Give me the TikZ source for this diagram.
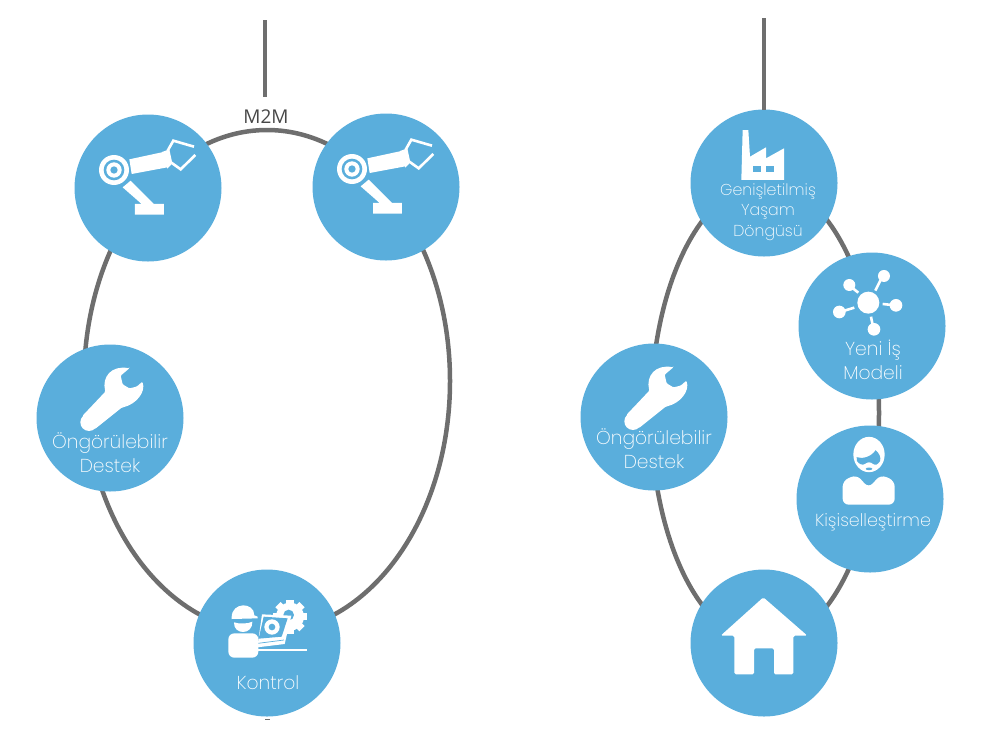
\documentclass[tikz,border=0pt]{standalone}
\usepackage{fontspec}
\usetikzlibrary{shapes.geometric}
\newfontfamily\lblfont{Poppins ExtraLight}
\setmainfont{Open Sans}
\definecolor{discblue}{HTML}{5AAEDC}
\definecolor{ringgrey}{HTML}{6E6E6E}
\tikzset{
 x=1pt,y=-1pt,
 disc/.style={circle,fill=discblue,minimum size=147pt,inner sep=0pt,outer sep=0pt},
 ring/.style={ellipse,draw=ringgrey,line width=4.5pt,inner sep=0pt,outer sep=0pt},
 wire/.style={draw=ringgrey,line width=4.5pt},
 lbl/.style={text=white,font=\lblfont\fontsize{18.7}{22}\selectfont,inner sep=0pt,anchor=center},
 smalllbl/.style={lbl,font=\lblfont\fontsize{15.8}{19}\selectfont},
 widelbl/.style={lbl,font=\lblfont\fontsize{17.4}{21}\selectfont},
 robot/.pic={
  \begin{scope}[shift={(-58,-58)},scale=0.3333]
   \fill[white] (72,120) circle (45);
   \fill[discblue] (72,120) circle (31);
   \fill[white] (72,120) circle (23);
   \fill[discblue] (72,120) circle (11);
   \fill[white] (118,88) -- (220,66) -- (232,112) -- (125,132) -- cycle;
   \fill[white] (216,66) -- (238,58) -- (247,100) -- (232,116) -- cycle;
   \draw[white,line width=2.6pt,line join=miter] (233,62) -- (250,32) -- (312,50);
   \draw[white,line width=2.6pt,line join=miter] (240,95) -- (272,118) -- (316,75);
   \fill[white] (98,172) -- (122,152) -- (192,222) -- (222,222) -- (222,254) -- (135,254) -- (135,222) -- (155,222) -- cycle;
  \end{scope}},
 wrench/.pic={
  \begin{scope}[shift={(-80,-73)},scale=0.3333]
   \fill[white] (177,232) circle (26);
   \fill[white,rounded corners=1pt] (298,70) -- (272,92) -- (278,118) -- (298,130) -- (320,125) -- (337,110)
     .. controls (348,140) and (320,178) .. (275,188) -- (195,252) -- (157,213) -- (226,140)
     .. controls (215,95) and (245,60) .. (298,70) -- cycle;
  \end{scope}},
 operator/.pic={
  \begin{scope}[shift={(-77,-73)},scale=0.3333]
   \fill[white] (300,140) circle (42);
   \foreach \a in {0,45,...,315}{
     \fill[white,rotate around={\a:(300,140)}] (289,89) rectangle (311,110);}
   \fill[discblue] (296,135) circle (16);
   \draw[white,line width=2.6pt] (205,240) -- (350,240);
   \fill[white] (216,133) -- (304,137) -- (284,222) -- (202,232) -- cycle;
   \fill[discblue] (221,140) -- (293,145) -- (275,200) -- (206,206) -- cycle;
   \draw[discblue,line width=0.7pt] (204,220) -- (282,210);
   \fill[white] (246,171) circle (23);
   \fill[discblue] (246,171) circle (10);
   \fill[white,rounded corners=6pt] (115,263) -- (115,190) -- (205,190) -- (205,263) -- cycle;
  \end{scope}
  \begin{scope}[shift={(-42,-43)},scale=0.3333]
   \fill[white] (20,52) .. controls (20,5) and (88,5) .. (88,46) -- (98,50) -- (98,55) -- (20,57) -- cycle;
   \fill[white] (27,67) .. controls (40,72) and (70,72) .. (82,65) .. controls (84,106) and (25,106) .. (27,67) -- cycle;
  \end{scope}},
 factory/.pic={
  \begin{scope}[shift={(-84,-73)},scale=0.3333]
   \fill[white] (188,60) -- (205,60) -- (210,140) -- (258,112) -- (258,145) -- (312,115) -- (312,210) -- (184,210) -- cycle;
   \fill[discblue] (220,167) rectangle (243,187);
   \fill[discblue] (258,167) rectangle (281,187);
  \end{scope}},
 network/.pic={
  \begin{scope}[shift={(-192,-216)},scale=0.3333]
   \fill[white] (565,578) circle (33);
   \fill[white] (612,498) circle (18);
   \fill[white] (508,525) circle (18);
   \fill[white] (648,586) circle (19);
   \fill[white] (478,606) circle (19);
   \fill[white] (582,658) circle (19);
   \draw[white,line width=2.6pt] (586,542) -- (602,510);
   \draw[white,line width=2.6pt] (535,548) -- (515,532);
   \draw[white,line width=2.6pt] (608,582) -- (635,585);
   \draw[white,line width=2.6pt] (523,593) -- (490,603);
   \draw[white,line width=2.6pt] (573,620) -- (578,645);
  \end{scope}},
 bearded/.pic={
  \begin{scope}[shift={(-23,-62.5)},scale=0.3333]
   \fill[white] (66,54) ellipse (47 and 53);
   \fill[discblue] (29,62) .. controls (45,68) and (72,62) .. (86,41)
     .. controls (96,50) and (103,62) .. (99,74) .. controls (92,84) and (85,88) .. (78,82)
     .. controls (72,76) and (60,76) .. (54,82) .. controls (46,88) and (36,82) .. (30,74) -- cycle;
   \fill[discblue] (66,97) ellipse (10 and 4);
  \end{scope}
  \begin{scope}[shift={(-80,-79)},scale=0.3333]
   \fill[white,rounded corners=6pt] (158,254) -- (158,182) -- (200,164) -- (236,204) -- (272,164) -- (314,182) -- (314,254) -- cycle;
  \end{scope}},
 house/.pic={
  \begin{scope}[shift={(-64,-63)},scale=0.3333]
   \fill[white,rounded corners=1.5pt] (190,52) -- (322,167) -- (280,167) -- (280,283) -- (222,283) -- (222,205) -- (162,205) -- (162,283) -- (103,283) -- (103,167) -- (62,167) -- cycle;
  \end{scope}}
}
\begin{document}
\begin{tikzpicture}
\useasboundingbox (0,0) rectangle (1000,737);
\node[ring,minimum width=366pt,minimum height=502pt] (ringL) at (267,381) {};
\node[ring,minimum width=228pt,minimum height=460pt] (ringR) at (765,413) {};
\node[disc] (armA) at (148,188) {};
\node[disc] (armB) at (386,187) {};
\node[disc] (wrenchL) at (110,418) {};
\node[disc] (ctrl) at (267,643) {};
\node[disc] (life) at (764,183) {};
\node[disc] (model) at (872,326) {};
\node[disc] (wrenchR) at (654,417) {};
\node[disc] (person) at (870,499) {};
\node[disc] (home) at (764,643) {};
\node[text=black!72,font=\fontsize{19}{22}\selectfont,inner sep=0pt] (m2m) at (266,117) {M2M};
\coordinate (topL) at (265,20);
\coordinate (topLend) at (265,97);
\coordinate (topR) at (764,18);
\coordinate (markA) at (265,719.5);
\coordinate (markB) at (270,719.5);
\draw[wire] (topL) -- (topLend);
\draw[wire] (topR) -- (life);
\draw[draw=ringgrey,line width=0.8pt] (markA) -- (markB);
\pic at (armA) {robot};
\pic at (armB) {robot};
\pic at (wrenchL) {wrench};
\pic at (wrenchR) {wrench};
\pic at (ctrl) {operator};
\pic at (life) {factory};
\pic at (model) {network};
\pic at (person) {bearded};
\pic at (home) {house};
\node[lbl] (t1) at (110,443) {Öngörülebilir};
\node[lbl] (t2) at (110,466) {Destek};
\node[lbl] (t3) at (654,439) {Öngörülebilir};
\node[lbl] (t4) at (654,462) {Destek};
\node[lbl] (t5) at (268,683) {Kontrol};
\node[smalllbl] (t6) at (768,192) {Genişletilmiş};
\node[smalllbl] (t7) at (768,212) {Yaşam};
\node[smalllbl] (t8) at (768,233) {Döngüsü};
\node[lbl] (t9) at (873,350) {Yeni İş};
\node[lbl] (t10) at (873,373) {Modeli};
\node[widelbl] (t11) at (873,522) {Kişiselleştirme};
\end{tikzpicture}
\end{document}
